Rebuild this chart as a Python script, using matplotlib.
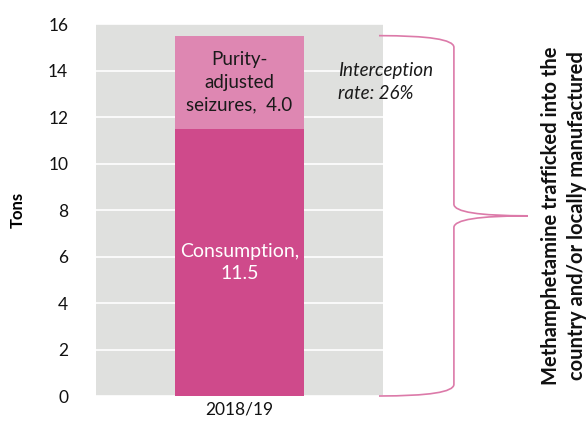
import matplotlib.pyplot as plt
from matplotlib.path import Path
from matplotlib.patches import PathPatch
import matplotlib.transforms as mtransforms

plt.rcParams['font.family'] = ['Lato', 'DejaVu Sans']

# tons of methamphetamine, 2018/19
year = ['2018/19']
consumption = [11.5]
seizures = [4.0]
interception_rate = 26

col_cons = '#cf4a8b'
col_seiz = '#de87b2'
col_brace = '#dc7aa9'

fig = plt.figure(figsize=(5.86, 4.22), dpi=100)
ax = fig.add_axes([0.1638, 0.0616, 0.4898, 0.8815])
ax.set_facecolor('#dfe0de')

x = [0]
ax.bar(x, consumption, width=0.45, color=col_cons, zorder=3)
ax.bar(x, seizures, width=0.45, bottom=consumption, color=col_seiz, zorder=3)

ax.set_xlim(-0.5, 0.5)
ax.set_ylim(0, 16)
ax.set_yticks(range(0, 17, 2))
ax.set_xticks(x)
ax.set_xticklabels(year)
ax.tick_params(length=0, labelsize=12.5, colors='#111111')
ax.tick_params(axis='y', pad=20)
ax.tick_params(axis='x', pad=4)
ax.grid(axis='y', color='white', linewidth=1.2, zorder=1)
for s in ax.spines.values():
    s.set_visible(False)
ax.set_ylabel('Tons', fontsize=12, fontweight='bold')
ax.yaxis.set_label_coords(-0.245, 0.5)

# segment labels
ax.text(0, consumption[0] + seizures[0] / 2, 'Purity-\nadjusted\nseizures,  %.1f' % seizures[0],
        ha='center', va='center', fontsize=13.5, color='#1a1a1a', zorder=4, linespacing=1.4)
ax.text(0, consumption[0] / 2, 'Consumption,\n%.1f' % consumption[0],
        ha='center', va='center', fontsize=14, color='white', zorder=4, linespacing=1.35)
ax.text(0.343, consumption[0] + seizures[0] / 2, 'Interception\nrate: %d%%' % interception_rate,
        ha='left', va='center', fontsize=13.5, style='italic', color='#1a1a1a', zorder=4,
        linespacing=1.4)

# curly brace spanning the full bar
total = consumption[0] + seizures[0]
mid = total / 2
r = 0.5
x0, x1, x2 = 0.986, 1.247, 1.505
verts = [(x0, total), (x1, total), (x1, total - r),
         (x1, mid + r), (x1, mid), (x2, mid),
         (x1, mid), (x1, mid - r),
         (x1, r), (x1, 0), (x0, 0)]
codes = [Path.MOVETO, Path.CURVE3, Path.CURVE3,
         Path.LINETO, Path.CURVE3, Path.CURVE3,
         Path.CURVE3, Path.CURVE3,
         Path.LINETO, Path.CURVE3, Path.CURVE3]
trans = mtransforms.blended_transform_factory(ax.transAxes, ax.transData)
brace = PathPatch(Path(verts, codes), transform=trans, facecolor='none',
                  edgecolor=col_brace, linewidth=1.2, clip_on=False, zorder=5)
ax.add_patch(brace)

ax.text(1.63, 0.485, 'Methamphetamine trafficked into the\ncountry and/or locally manufactured',
        transform=ax.transAxes, rotation=90, ha='center', va='center',
        fontsize=14.5, fontweight='bold', color='#111111', linespacing=1.4)

fig.savefig('out.png', dpi=100)
